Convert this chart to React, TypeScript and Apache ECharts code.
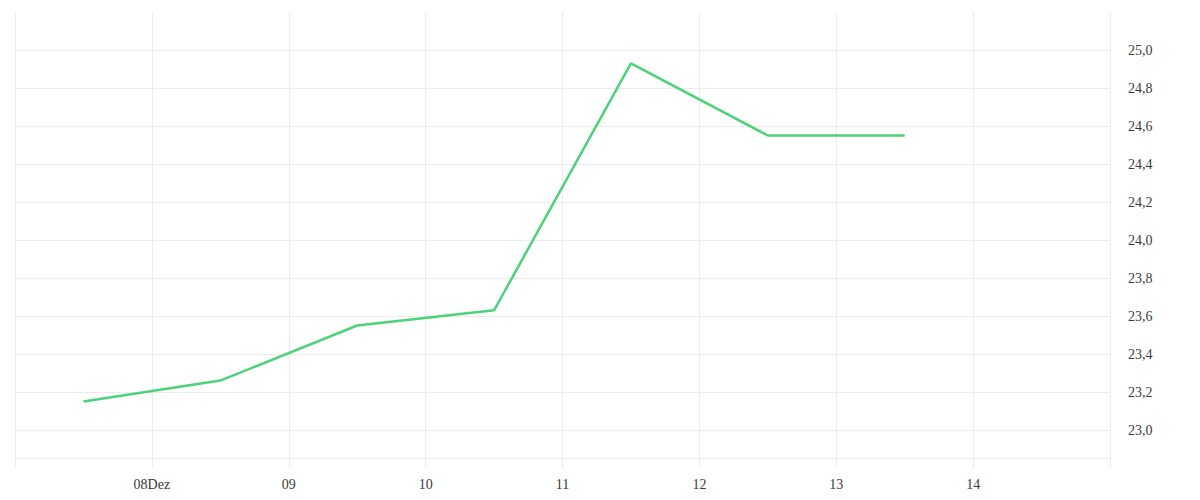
import React, { useEffect, useRef } from "react";
import * as echarts from "echarts";

const days = [7.5, 8.5, 9.5, 10.5, 11.5, 12.5, 13.5];
const values = [23.15, 23.26, 23.55, 23.63, 24.93, 24.55, 24.55];
const xTickLabels = ["08Dez", "09", "10", "11", "12", "13", "14"];
const firstLabelDay = 8;
const baseLineValue = 22.853;

export default function App() {
  const ref = useRef<HTMLDivElement>(null);
  useEffect(() => {
    if (!ref.current) return;
    const chart = echarts.init(ref.current, null, { renderer: "svg" });
    const font = { fontFamily: "Liberation Serif, serif", fontSize: 14, color: "#3a3a3a" };
    chart.setOption({
      animation: false,
      backgroundColor: "#ffffff",
      grid: { left: 15, right: 90, top: 12, bottom: 32, containLabel: false },
      xAxis: {
        type: "value",
        min: 7,
        max: 15,
        interval: 1,
        axisLine: { show: false },
        axisTick: { show: false },
        splitLine: { show: true, lineStyle: { color: "#ececec", width: 1 } },
        axisLabel: {
          ...font,
          margin: 9,
          showMinLabel: false,
          showMaxLabel: false,
          formatter: (v: number) => xTickLabels[Math.round(v) - firstLabelDay] ?? "",
        },
      },
      yAxis: {
        type: "value",
        position: "right",
        min: 22.8,
        max: 25.2,
        interval: 0.2,
        axisLine: { show: false },
        axisTick: { show: false },
        splitLine: {
          show: true,
          showMinLine: false,
          showMaxLine: false,
          lineStyle: { color: "#ececec", width: 1 },
        },
        axisLabel: {
          ...font,
          margin: 18,
          showMinLabel: false,
          showMaxLabel: false,
          formatter: (v: number) => v.toFixed(1).replace(".", ","),
        },
      },
      series: [
        {
          type: "line",
          data: days.map((d, i) => [d, values[i]]),
          showSymbol: false,
          lineStyle: { color: "#4cd278", width: 2.5 },
          itemStyle: { color: "#4cd278" },
          markLine: {
            silent: true,
            symbol: "none",
            label: { show: false },
            lineStyle: { color: "#ececec", type: "solid", width: 1 },
            data: [{ yAxis: baseLineValue }],
          },
        },
      ],
    });
    return () => chart.dispose();
  }, []);
  return (
    <div
      ref={ref}
      style={{ width: 1200, height: 500, position: "fixed", left: 0, top: 0 }}
    />
  );
}
